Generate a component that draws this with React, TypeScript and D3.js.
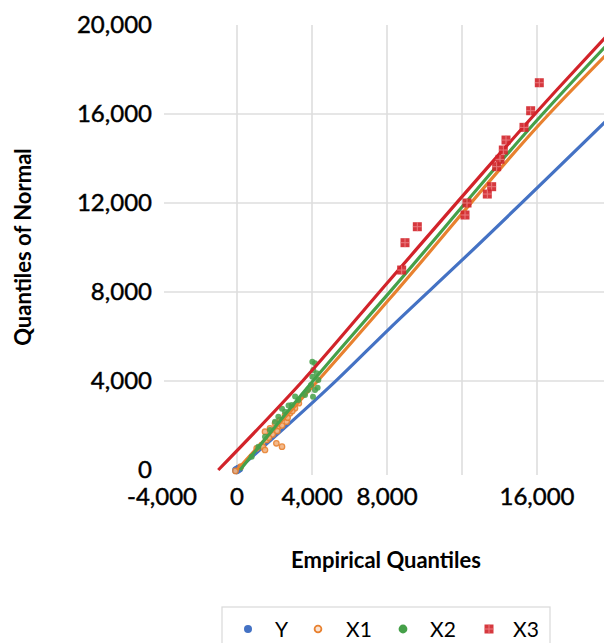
import React from "react";
import * as d3 from "d3";

const W = 604;
const H = 643;

const xTicks = [-4000, 0, 4000, 8000, 16000];
const xGrid = [0, 4000, 8000, 12000, 16000, 20000];
const yTicks = [0, 4000, 8000, 12000, 16000, 20000];
const yGrid = [4000, 8000, 12000, 16000];

const seriesNames = ["Y", "X1", "X2", "X3"];
const seriesColors = ["#4472C4", "#E8812F", "#45A049", "#D2232A"];

// dense quantile chains
const yLine: [number, number][] = [[0, 0], [5330, 4050], [8160, 6380], [11900, 9350], [19700, 15700]];
const x1Line: [number, number][] = [[0, 0], [4300, 4000], [8200, 7750], [16640, 16000], [19700, 18670]];
const x2Line: [number, number][] = [[160, 0], [4050, 4000], [8200, 8050], [16300, 16000], [19700, 19080]];
const x3Line: [number, number][] = [[-1000, 0], [3500, 4000], [8150, 8540], [17050, 17080], [19700, 19490]];

// individual scattered points
const yPts: [number, number][] = [[0, 0], [60, 40], [-50, -10], [120, 70]];
const x1Pts: [number, number][] = [
  [-80, -40], [200, 150], [1050, 975], [1317, 1124], [1584, 1348], [1493, 1721], [1760, 1874],
  [2027, 2099], [2293, 2247], [2560, 2472], [2827, 2548], [3093, 2773], [2649, 2171],
  [2205, 1946], [1387, 1034], [1493, 900], [2100, 1200], [2400, 1050], [1900, 1600],
  [2150, 1750], [2400, 2000], [1700, 1450], [2700, 2350], [2950, 2650], [3300, 3000],
];
const x2Pts: [number, number][] = [
  [782, 599], [1138, 1048], [1493, 1498], [1760, 1798], [2027, 2171], [2205, 2396],
  [2560, 2621], [2916, 2921], [3271, 3146], [3627, 3370], [4160, 3595], [3947, 3820],
  [4338, 4045], [4018, 4193], [4250, 4345], [4070, 4494], [4160, 4795], [4018, 4868],
  [4053, 3296], [3787, 3595], [4300, 3700], [2400, 2750], [2750, 2900], [3100, 3300],
];
const x3Pts: [number, number][] = [
  [16123, 17405], [15662, 16147], [15307, 15400], [14347, 14830], [14203, 14381],
  [14027, 13963], [13848, 13632], [13582, 12733], [13350, 12403], [12160, 11460],
  [12267, 12000], [9617, 10934], [8960, 10216], [8782, 8988],
];

const FONT = "Lato, 'Open Sans', sans-serif";

export default function App() {
  const x = d3.scaleLinear().domain([-4000, 20000]).range([162, 612]);
  const y = d3.scaleLinear().domain([0, 20000]).range([470, 25]);
  const fmt = (v: number) => d3.format(",")(v).replace("\u2212", "-");
  const line = d3
    .line<[number, number]>()
    .x((d) => x(d[0]))
    .y((d) => y(d[1]))
    .curve(d3.curveMonotoneX);

  const legendX = [248, 318, 403, 489];
  const legendTextX = [275, 346, 430, 513];

  const square = (cx: number, cy: number, s: number, key: string, color: string) => (
    <g key={key}>
      <rect x={cx - s / 2} y={cy - s / 2} width={s} height={s} fill={color} opacity={0.9} />
      <path
        d={`M${cx - s / 2},${cy}H${cx + s / 2}M${cx},${cy - s / 2}V${cy + s / 2}`}
        stroke="#F08A8E"
        strokeWidth={1}
        opacity={0.8}
      />
    </g>
  );

  return (
    <div style={{ position: "absolute", left: 0, top: 0 }}>
      <svg width={W} height={H} style={{ display: "block", background: "#fff" }}>
        {/* gridlines */}
        {yGrid.map((v) => (
          <line key={"hy" + v} x1={164} x2={612} y1={y(v)} y2={y(v)} stroke="#DEDEDE" strokeWidth={1.6} />
        ))}
        {xGrid.map((v) => (
          <line key={"vx" + v} x1={x(v)} x2={x(v)} y1={y(20000)} y2={475} stroke="#DEDEDE" strokeWidth={1.6} />
        ))}

        {/* y tick labels */}
        {yTicks.map((v) => (
          <text key={"yt" + v} x={152} y={y(v) + 8} textAnchor="end" fontFamily={FONT} fontSize={24} fill="#000" stroke="#000" strokeWidth={0.45}>
            {fmt(v)}
          </text>
        ))}
        {/* x tick labels */}
        {xTicks.map((v) => (
          <text key={"xt" + v} x={x(v)} y={505} textAnchor="middle" fontFamily={FONT} fontSize={24} fill="#000" stroke="#000" strokeWidth={0.45}>
            {fmt(v)}
          </text>
        ))}

        {/* axis titles */}
        <text x={386} y={568} textAnchor="middle" fontFamily={FONT} fontWeight="bold" fontSize={22} fill="#000">
          Empirical Quantiles
        </text>
        <text
          transform={`translate(31,247) rotate(-90)`}
          textAnchor="middle"
          fontFamily={FONT}
          fontWeight="bold"
          fontSize={22}
          fill="#000"
        >
          Quantiles of Normal
        </text>

        {/* series */}
        {/* Y */}
        <path d={line(yLine) || ""} fill="none" stroke={seriesColors[0]} strokeWidth={3.2} strokeLinejoin="round" />
        {yPts.map((p, i) => (
          <circle key={"yp" + i} cx={x(p[0])} cy={y(p[1])} r={4} fill={seriesColors[0]} />
        ))}
        {/* X1 */}
        {x1Pts.map((p, i) => (
          <circle key={"x1p" + i} cx={x(p[0])} cy={y(p[1])} r={2.7} fill="#F2B27F" stroke={seriesColors[1]} strokeWidth={1.3} opacity={0.9} />
        ))}
        <path d={line(x1Line) || ""} fill="none" stroke={seriesColors[1]} strokeWidth={3.2} strokeLinejoin="round" />
        {/* X2 */}
        {x2Pts.map((p, i) => (
          <circle key={"x2p" + i} cx={x(p[0])} cy={y(p[1])} r={3} fill={seriesColors[2]} opacity={0.85} />
        ))}
        <path d={line(x2Line) || ""} fill="none" stroke={seriesColors[2]} strokeWidth={3.2} strokeLinejoin="round" />
        {/* X3 */}
        <path d={line(x3Line) || ""} fill="none" stroke={seriesColors[3]} strokeWidth={3.2} strokeLinejoin="round" />
        {x3Pts.map((p, i) => square(x(p[0]), y(p[1]), 9, "x3p" + i, seriesColors[3]))}

        {/* legend */}
        <rect x={222} y={607} width={328} height={50} fill="none" stroke="#D9D9D9" strokeWidth={1.2} />
        {seriesNames.map((name, i) => (
          <g key={"lg" + name}>
            {i === 0 && <circle cx={legendX[i]} cy={629} r={4} fill={seriesColors[0]} />}
            {i === 1 && <circle cx={legendX[i]} cy={629} r={3.4} fill="#FBE3D2" stroke={seriesColors[1]} strokeWidth={1.8} />}
            {i === 2 && <circle cx={legendX[i]} cy={629} r={4.4} fill={seriesColors[2]} />}
            {i === 3 && square(legendX[i], 629, 9, "lsq", seriesColors[3])}
            <text x={legendTextX[i]} y={637} fontFamily={FONT} fontSize={21} fill="#000">
              {name}
            </text>
          </g>
        ))}
      </svg>
    </div>
  );
}
